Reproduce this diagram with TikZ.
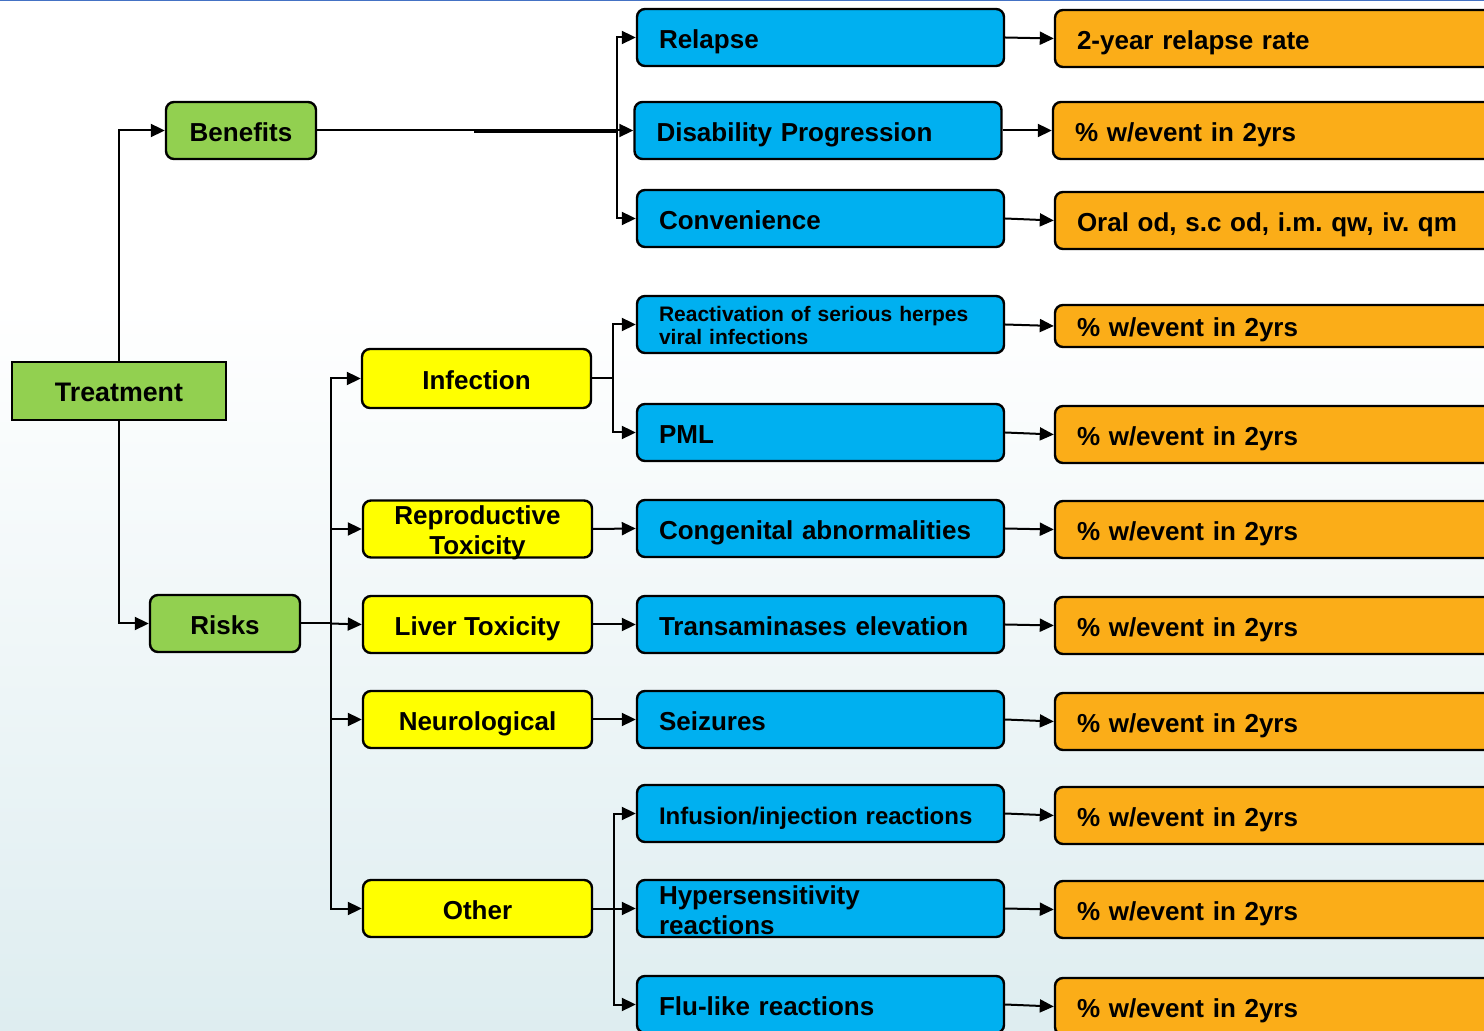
\documentclass[tikz,border=0pt]{standalone}
\usepackage{fontspec}
\setmainfont{Liberation Sans}
\frenchspacing
\usetikzlibrary{arrows.meta}
\definecolor{cgreen}{RGB}{146,208,80}
\definecolor{cblue}{RGB}{0,176,240}
\definecolor{cyellow}{RGB}{255,255,0}
\definecolor{corange}{RGB}{251,173,24}
\definecolor{cbgbot}{RGB}{222,237,240}
\definecolor{ctopline}{RGB}{68,114,196}
\begin{document}
\begin{tikzpicture}[x=0.5pt,y=-0.5pt,
  box/.style={draw=black, line width=1.2pt, rounded corners=4pt, inner ysep=0pt,
    font=\bfseries\fontsize{13}{15}\selectfont, text height=10.8pt, text depth=0pt},
  greenbox/.style={box, fill=cgreen, minimum width=75pt, minimum height=28.5pt, inner xsep=0pt, align=center},
  yellowbox/.style={box, fill=cyellow, minimum width=114.5pt, minimum height=28.5pt, inner xsep=0pt, align=center},
  bluebox/.style={box, fill=cblue, minimum height=28.5pt, inner xsep=11pt, text width=161.5pt, align=left},
  orangebox/.style={box, fill=corange, minimum height=28.5pt, inner xsep=11pt, text width=200.5pt, align=left},
  conn/.style={draw=black, line width=1pt},
  arr/.style={conn, -{Triangle[length=7pt,width=6.5pt]}}
]
\useasboundingbox (0,0) rectangle (1484,1031);
\clip (0,0) rectangle (1484,1031);
% background
\fill[white] (0,0) rectangle (1484,301);
\shade[top color=white, bottom color=cbgbot] (0,300) rectangle (1484,1031);
\draw[ctopline, line width=0.7pt] (0,0.7) -- (1484,0.7);

% green
\node[greenbox, rounded corners=0pt, minimum width=107pt, minimum height=29pt, font=\bfseries\fontsize{13.4}{15}\selectfont] (treat) at (119,391) {Treatment};
\node[greenbox] (ben) at (241,130.5) {Benefits};
\node[greenbox] (risk) at (225,623.5) {Risks};

% yellow
\node[yellowbox, minimum height=29.5pt] (inf) at (476.5,378.5) {Infection};
\node[yellowbox, text depth=15pt] (repro) at (477.5,529) {\parbox[t]{114.5pt}{\centering Reproductive\\Toxicity}};
\node[yellowbox] (liver) at (477.5,624.5) {Liver Toxicity};
\node[yellowbox] (neuro) at (477.5,719.5) {Neurological};
\node[yellowbox] (other) at (477.5,908.5) {Other};

% blue
\node[bluebox] (relapse) at (820.5,37.5) {Relapse};
\node[bluebox] (dis) at (818,130.5) {Disability Progression};
\node[bluebox] (conv) at (820.5,218.5) {Convenience};
\node[bluebox, font=\bfseries\fontsize{10.5}{11.4}\selectfont, text height=8.6pt, text depth=11.4pt] (react) at (820.5,324.5) {Reactivation of serious herpes\\viral infections};
\node[bluebox] (pml) at (820.5,432.5) {PML};
\node[bluebox] (cong) at (820.5,528.5) {Congenital abnormalities};
\node[bluebox] (trans) at (820.5,624.5) {Transaminases elevation};
\node[bluebox] (seiz) at (820.5,719.5) {Seizures};
\node[bluebox, font=\bfseries\fontsize{12}{15}\selectfont] (infu) at (820.5,813.5) {Infusion/injection reactions};
\node[bluebox, text depth=15pt] (hyper) at (820.5,908.5) {Hypersensitivity\\reactions};
\node[bluebox] (flu) at (820.5,1004.5) {Flu-like reactions};

% orange
\node[orangebox] (o1) at (1277.5,38.5) {2-year relapse rate};
\node[orangebox] (o2) at (1275.5,130.5) {\% w/event in 2yrs};
\node[orangebox] (o3) at (1277.5,220.5) {Oral od, s.c od, i.m. qw, iv. qm};
\node[orangebox, minimum height=21pt] (o4) at (1277.5,326) {\% w/event in 2yrs};
\node[orangebox] (o5) at (1277.5,434.5) {\% w/event in 2yrs};
\node[orangebox] (o6) at (1277.5,529.5) {\% w/event in 2yrs};
\node[orangebox] (o7) at (1277.5,625.5) {\% w/event in 2yrs};
\node[orangebox] (o8) at (1277.5,721.5) {\% w/event in 2yrs};
\node[orangebox] (o9) at (1277.5,815.5) {\% w/event in 2yrs};
\node[orangebox] (o10) at (1277.5,909.5) {\% w/event in 2yrs};
\node[orangebox] (o11) at (1277.5,1006.5) {\% w/event in 2yrs};

% connectors: treatment
\draw[arr] (treat.north) |- (ben.west);
\draw[arr] (treat.south) |- (risk.west);

% benefits
\coordinate (bt) at (617,130.5);
\coordinate (bthick) at (474,131);
\draw[conn] (ben.east) -- (bt);
\draw[conn, line width=2pt] (bthick) -- (bt |- bthick);
\draw[arr] (bt) |- (relapse.west);
\draw[arr] (bt) -- (dis.west);
\draw[arr] (bt) |- (conv.west);

% risks
\coordinate (rt) at (331,623.5);
\draw[conn] (risk.east) -- (rt);
\draw[arr] (rt) |- (inf.west);
\draw[arr] (rt) |- (repro.west);
\draw[arr] (rt) -- (liver.west);
\draw[arr] (rt) |- (neuro.west);
\draw[arr] (rt) |- (other.west);

% infection
\coordinate (it) at (613,378.5);
\draw[conn] (inf.east) -- (it);
\draw[arr] (it) |- (react.west);
\draw[arr] (it) |- (pml.west);

% single links
\draw[arr] (repro.east) -- (cong.west);
\draw[arr] (liver.east) -- (trans.west);
\draw[arr] (neuro.east) -- (seiz.west);

% other
\coordinate (ot) at (614,908.5);
\draw[conn] (other.east) -- (ot);
\draw[arr] (ot) |- (infu.west);
\draw[arr] (ot) -- (hyper.west);
\draw[arr] (ot) |- (flu.west);

% blue to orange
\draw[arr] (relapse.east) -- (o1.west);
\draw[arr] (dis.east) -- (o2.west);
\draw[arr] (conv.east) -- (o3.west);
\draw[arr] (react.east) -- (o4.west);
\draw[arr] (pml.east) -- (o5.west);
\draw[arr] (cong.east) -- (o6.west);
\draw[arr] (trans.east) -- (o7.west);
\draw[arr] (seiz.east) -- (o8.west);
\draw[arr] (infu.east) -- (o9.west);
\draw[arr] (hyper.east) -- (o10.west);
\draw[arr] (flu.east) -- (o11.west);
\end{tikzpicture}
\end{document}
